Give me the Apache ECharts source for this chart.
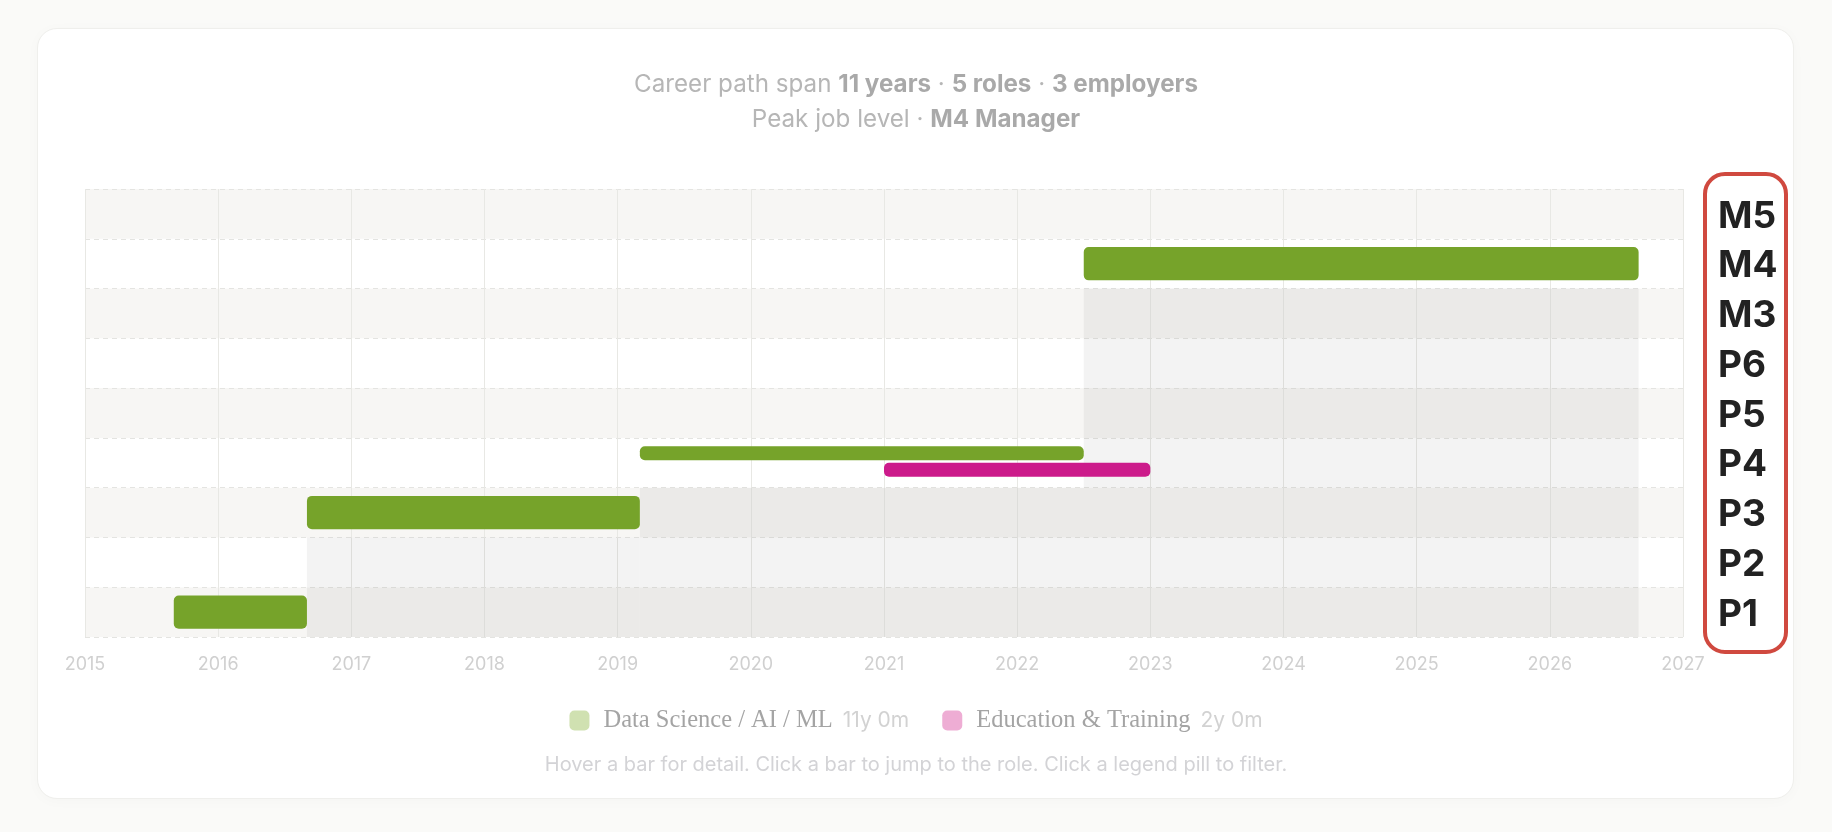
<!DOCTYPE html>
<html>
<head>
<meta charset="utf-8">
<title>Career path</title>
<script src="https://cdn.jsdelivr.net/npm/echarts@6/dist/echarts.min.js"></script>
<style>
	html, body { margin: 0; padding: 0; background: #fafaf8; }
	.card {
		position: absolute; left: 37px; top: 28px; width: 1755px; height: 769px;
		background: #fff; border: 1px solid #efefec; border-radius: 20px;
		box-shadow: 0 2px 14px rgba(0, 0, 0, 0.025);
	}
	#chart { position: absolute; left: 0; top: 0; width: 1832px; height: 832px; }
</style>
</head>
<body>
<div class="card"></div>
<div id="chart"></div>
<script>
// job levels, bottom to top
const levels = ['P1', 'P2', 'P3', 'P4', 'P5', 'P6', 'M3', 'M4', 'M5'];

// tracks (legend)
const trackNames = ['Data Science / AI / ML', 'Education & Training'];
const trackColors = ['#76a32a', '#cc1b8b'];
const trackSwatches = ['#d0e1b1', '#eeadd4'];
const trackDurations = ['11y 0m', '2y 0m'];

// roles
const roleTrack = [0, 0, 0, 1, 0];
const roleLevel = ['P1', 'P3', 'P4', 'P4', 'M4'];
const roleStart = ['2015-09', '2016-09', '2019-03', '2021-01', '2022-07'];
const roleEnd = ['2016-09', '2019-03', '2022-07', '2023-01', '2026-09'];

// 'YYYY-MM' -> decimal year
function toYear(s) {
	let [y, m] = s.split('-').map(Number);
	return y + (m - 1) / 12;
}

let roles = roleStart.map((s, i) => ({
	start: toYear(s),
	end: toYear(roleEnd[i]),
	level: levels.indexOf(roleLevel[i]),
	track: roleTrack[i],
}));

// lanes for roles sharing a level at the same time
roles.forEach((r) => {
	let group = roles
		.filter((o) => o.level == r.level && o.start < r.end && o.end > r.start)
		.sort((a, b) => a.start - b.start);
	r.laneCount = group.length;
	r.lane = group.indexOf(r);
});

// step area: highest level held over time
let points = [...new Set(roles.flatMap((r) => [r.start, r.end]))].sort((a, b) => a - b);
let steps = [];
for (let i = 0; i < points.length - 1; i++) {
	let a = points[i], b = points[i + 1];
	let active = roles.filter((r) => r.start <= a && r.end >= b);
	if (!active.length) continue;
	let lvl = Math.max(...active.map((r) => r.level));
	let last = steps[steps.length - 1];
	if (last && last[2] == lvl && last[1] == a) last[1] = b;
	else steps.push([a, b, lvl]);
}

function renderStep(params, api) {
	let lvl = api.value(2);
	let band = api.size([0, 1])[1];
	let p0 = api.coord([api.value(0), lvl]);
	let p1 = api.coord([api.value(1), lvl]);
	let top = p0[1] + band / 2;
	let bottom = params.coordSys.y + params.coordSys.height;
	if (bottom - top < 1) return null;
	return {
		type: 'rect',
		shape: { x: p0[0], y: top, width: p1[0] - p0[0], height: bottom - top },
		style: { fill: 'rgba(90, 100, 100, 0.075)' },
		silent: true,
	};
}

function renderRole(params, api) {
	let band = api.size([0, 1])[1];
	let p0 = api.coord([api.value(0), api.value(2)]);
	let p1 = api.coord([api.value(1), api.value(2)]);
	let laneCount = api.value(4);
	let h, cy;
	if (laneCount > 1) {
		h = band * 0.28;
		cy = p0[1] + (api.value(3) == 0 ? -0.19 : 0.14) * band;
	} else {
		h = band * 0.67;
		cy = p0[1];
	}
	return {
		type: 'rect',
		shape: { x: p0[0], y: cy - h / 2, width: p1[0] - p0[0], height: h, r: 5 },
		style: { fill: api.visual('color') },
	};
}

let series = [
	{
		type: 'custom',
		name: 'level',
		renderItem: renderStep,
		encode: { x: [0, 1], y: 2 },
		data: steps,
		silent: true,
		z: 1,
	},
];
trackNames.forEach((name, t) => {
	series.push({
		type: 'custom',
		name: name,
		renderItem: renderRole,
		encode: { x: [0, 1], y: 2 },
		itemStyle: { color: trackColors[t] },
		data: roles
			.filter((r) => r.track == t)
			.map((r) => [r.start, r.end, r.level, r.lane, r.laneCount]),
		z: 3,
	});
});

let headRich = {
	a: { fontFamily: 'Inter', fontSize: 24.2, fontWeight: 400, color: '#b6b6b6' },
	b: { fontFamily: 'Inter', fontSize: 24.2, fontWeight: 700, color: '#a9a9a9' },
};

let myChart = echarts.init(document.getElementById('chart'));
myChart.setOption({
	animation: false,
	textStyle: { fontFamily: 'Inter' },
	title: [
		{
			left: 'center',
			top: 68,
			text: '{a|Career path span }{b|11 years}{a| · }{b|5 roles}{a| · }{b|3 employers}',
			textStyle: { fontWeight: 400, rich: headRich },
		},
		{
			left: 'center',
			top: 103,
			text: '{a|Peak job level · }{b|M4 Manager}',
			textStyle: { fontWeight: 400, rich: headRich },
		},
		{
			left: 'center',
			top: 750,
			text: 'Hover a bar for detail. Click a bar to jump to the role. Click a legend pill to filter.',
			textStyle: { fontFamily: 'Inter', fontSize: 20, fontWeight: 400, color: '#d3d3d6' },
		},
	],
	legend: {
		left: 'center',
		top: 703,
		icon: 'roundRect',
		itemWidth: 20,
		itemHeight: 20,
		itemGap: 33,
		data: trackNames.map((n, i) => ({ name: n, itemStyle: { color: trackSwatches[i] } })),
		formatter: (name) => '{n|' + name + '}{d|' + trackDurations[trackNames.indexOf(name)] + '}',
		textStyle: {
			rich: {
				n: { fontFamily: 'Liberation Serif', fontSize: 24.5, color: '#a4a4a4', padding: [0, 10, 0, 9] },
				d: { fontFamily: 'Inter', fontSize: 21, color: '#d2d2d2' },
			},
		},
	},
	grid: { left: 85, right: 149, top: 189, bottom: 195 },
	xAxis: {
		type: 'value',
		min: 2015,
		max: 2027,
		interval: 1,
		axisLine: { show: false },
		axisTick: { show: false },
		axisLabel: { formatter: (v) => String(v), fontFamily: 'Inter', fontSize: 18, color: '#d0d0d0', margin: 19 },
		splitLine: { show: true, lineStyle: { color: '#e8e8e4', width: 1 } },
	},
	yAxis: {
		type: 'category',
		data: levels,
		position: 'right',
		axisLine: { show: false },
		axisTick: { show: false },
		axisLabel: {
			margin: 35,
			formatter: (v) => '{l|' + v + '}',
			rich: {
				l: { fontFamily: 'Inter', fontSize: 37, fontWeight: 700, color: '#222', padding: [5, 0, 0, 0] },
			},
		},
		splitLine: { show: true, lineStyle: { color: '#e4e4e1', type: [5, 4] } },
		splitArea: { show: true, areaStyle: { color: ['#f7f6f4', '#ffffff'] } },
	},
	graphic: [
		{
			type: 'rect',
			shape: { x: 1705, y: 174, width: 81, height: 478, r: 20 },
			style: { fill: 'none', stroke: '#d0493f', lineWidth: 4 },
			z: 10,
		},
	],
	series: series,
});
</script>
</body>
</html>
